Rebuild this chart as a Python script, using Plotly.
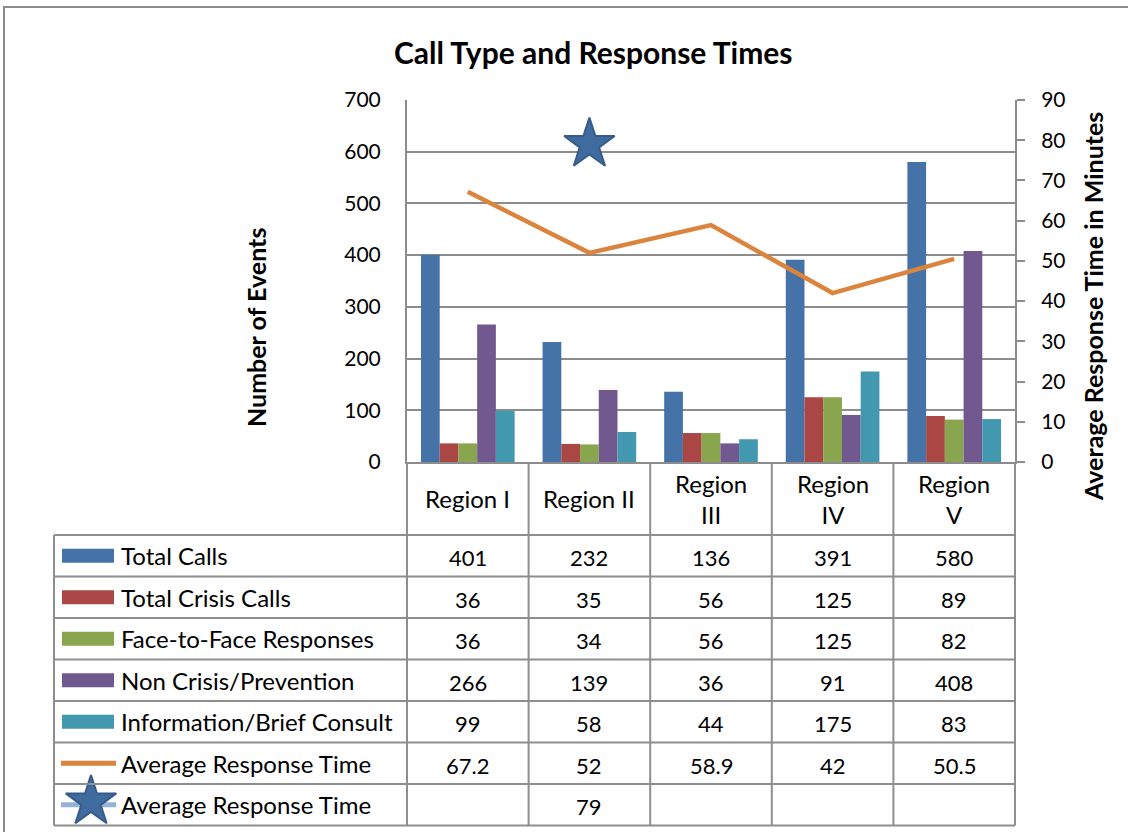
import plotly.graph_objects as go

W, H = 1128, 832

regions = ["Region I", "Region II", "Region III", "Region IV", "Region V"]
region_labels = ["Region I", "Region II", "Region<br>III", "Region<br>IV", "Region<br>V"]

total_calls = [401, 232, 136, 391, 580]
total_crisis = [36, 35, 56, 125, 89]
face_to_face = [36, 34, 56, 125, 82]
non_crisis = [266, 139, 36, 91, 408]
info_brief = [99, 58, 44, 175, 83]
avg_response = [67.2, 52, 58.9, 42, 50.5]
avg_response_star = [None, 79, None, None, None]

bar_names = ["Total Calls", "Total Crisis Calls", "Face-to-Face Responses",
             "Non Crisis/Prevention", "Information/Brief Consult"]
bar_values = [total_calls, total_crisis, face_to_face, non_crisis, info_brief]
bar_colors = ["#4572A7", "#AA4643", "#89A54E", "#71588F", "#4198AF"]
line_name = "Average Response Time"
line_color = "#DB843D"
star_color = "#3F6B9E"
star_edge = "#375B8A"
star_line_color = "#95B3D7"

FONT = "Lato"
GRID = "#8C8C8C"
LABEL_SIZE = 24
NUM_SIZE = 22
STAR_SIZE = 38

# layout in pixels
PX_L, PX_R = 407, 1015
PY_T, PY_B = 100, 462
TBL_L = 54
ROW_TOP = 535
ROW_H = 41.5
N_ROWS = 7

fig = go.Figure()

for name, vals, col in zip(bar_names, bar_values, bar_colors):
    fig.add_trace(go.Bar(x=regions, y=vals, name=name, marker_color=col,
                         marker_line_width=0, xaxis="x", yaxis="y"))

fig.add_trace(go.Scatter(x=regions, y=avg_response, mode="lines", name=line_name,
                         line=dict(color=line_color, width=4.5),
                         xaxis="x", yaxis="y2"))
fig.add_trace(go.Scatter(x=regions, y=avg_response_star, mode="markers", name=line_name,
                         marker=dict(symbol="star", size=STAR_SIZE, color=star_color,
                                     line=dict(color=star_edge, width=2)),
                         xaxis="x", yaxis="y2"))

shapes = []
annotations = []

def row_center(i):
    return ROW_TOP + ROW_H * (i + 0.5)

line_style = dict(color="#8E8E8E", width=2)

# horizontal table lines
for i in range(N_ROWS + 1):
    y = ROW_TOP + ROW_H * i
    shapes.append(dict(type="line", xref="x3", yref="y3", x0=TBL_L, x1=PX_R, y0=y, y1=y,
                       line=line_style, layer="above"))
# vertical table lines
shapes.append(dict(type="line", xref="x3", yref="y3", x0=TBL_L, x1=TBL_L,
                   y0=ROW_TOP, y1=ROW_TOP + ROW_H * N_ROWS, line=line_style))
col_w = (PX_R - PX_L) / len(regions)
for j in range(len(regions) + 1):
    x = PX_L + col_w * j
    shapes.append(dict(type="line", xref="x3", yref="y3", x0=x, x1=x,
                       y0=PY_B, y1=ROW_TOP + ROW_H * N_ROWS, line=line_style))

# category labels in header row
for reg, lab in zip(regions, region_labels):
    annotations.append(dict(x=reg, xref="x", y=(PY_B + ROW_TOP) / 2, yref="y3",
                            text=lab, showarrow=False,
                            font=dict(family=FONT, size=LABEL_SIZE, color="#000000")))

# row labels, keys and values
row_names = bar_names + [line_name, line_name]
row_values = bar_values + [avg_response, avg_response_star]
for i, (nm, vals) in enumerate(zip(row_names, row_values)):
    yc = row_center(i)
    annotations.append(dict(x=119, xref="x3", y=yc, yref="y3", text=nm, showarrow=False,
                            xanchor="left",
                            font=dict(family=FONT, size=LABEL_SIZE, color="#000000")))
    for reg, v in zip(regions, vals):
        if v is None:
            continue
        annotations.append(dict(x=reg, xref="x", y=yc + 2, yref="y3", text=str(v),
                                showarrow=False,
                                font=dict(family=FONT, size=NUM_SIZE, color="#000000")))
    if i < len(bar_names):
        shapes.append(dict(type="rect", xref="x3", yref="y3", x0=62, x1=114,
                           y0=yc - 7, y1=yc + 7, fillcolor=bar_colors[i],
                           line=dict(width=0)))

# line keys
k6 = row_center(5)
k7 = row_center(6)
fig.add_trace(go.Scatter(x=[61, 116], y=[k6, k6], mode="lines",
                         line=dict(color=line_color, width=5), xaxis="x3", yaxis="y3",
                         hoverinfo="skip"))
fig.add_trace(go.Scatter(x=[61, 116], y=[k7, k7], mode="lines",
                         line=dict(color=star_line_color, width=5), xaxis="x3", yaxis="y3",
                         hoverinfo="skip"))
fig.add_trace(go.Scatter(x=[91], y=[k7 - 3], mode="markers",
                         marker=dict(symbol="star", size=STAR_SIZE, color=star_color,
                                     line=dict(color=star_edge, width=2)),
                         xaxis="x3", yaxis="y3", hoverinfo="skip"))

# titles
annotations.append(dict(x=593, xref="x3", y=52, yref="y3", text="<b>Call Type and Response Times</b>",
                        showarrow=False, font=dict(family=FONT, size=30, color="#000000")))
annotations.append(dict(x=256, xref="x3", y=328, yref="y3", text="<b>Number of Events</b>",
                        showarrow=False, textangle=-90,
                        font=dict(family=FONT, size=25, color="#000000")))
annotations.append(dict(x=1093, xref="x3", y=307, yref="y3",
                        text="<b>Average Response Time in Minutes</b>",
                        showarrow=False, textangle=-90,
                        font=dict(family=FONT, size=25, color="#000000")))

# outer border
shapes.append(dict(type="rect", xref="x3", yref="y3", x0=4, x1=1140,
                   y0=7, y1=850, line=dict(color="#8A8A8A", width=2)))

fig.update_layout(
    width=W, height=H,
    margin=dict(l=0, r=0, t=0, b=0, pad=0, autoexpand=False),
    paper_bgcolor="white", plot_bgcolor="rgba(0,0,0,0)",
    barmode="group", bargap=0.23, bargroupgap=0,
    showlegend=False,
    font=dict(family=FONT, size=21, color="#000000"),
    xaxis=dict(domain=[PX_L / W, PX_R / W], type="category", range=[-0.5, 4.5],
               showticklabels=False, showgrid=False, showline=True,
               linecolor=GRID, linewidth=2, ticks="", anchor="y"),
    yaxis=dict(domain=[1 - PY_B / H, 1 - PY_T / H], range=[0, 700], dtick=100,
               showgrid=True, gridcolor=GRID, gridwidth=1.5, showline=True,
               linecolor=GRID, linewidth=2, ticks="", ticklabelstandoff=20,
               zeroline=False, tickfont=dict(family=FONT, size=21), anchor="x"),
    yaxis2=dict(overlaying="y", side="right", range=[0, 90], dtick=10,
                showgrid=False, showline=True, linecolor=GRID, linewidth=2,
                ticks="outside", ticklen=8, tickcolor=GRID, tickwidth=2,
                ticklabelstandoff=12, zeroline=False,
                tickfont=dict(family=FONT, size=21), anchor="x"),
    xaxis3=dict(domain=[0, 1], range=[0, W], visible=False, anchor="y3", fixedrange=True),
    yaxis3=dict(domain=[0, 1], range=[H, 0], visible=False, anchor="x3", fixedrange=True),
    shapes=shapes,
    annotations=annotations,
)

fig.write_html("out.html", config={"displayModeBar": False},
               post_script="document.body.style.margin='0';document.body.style.overflow='hidden';")
